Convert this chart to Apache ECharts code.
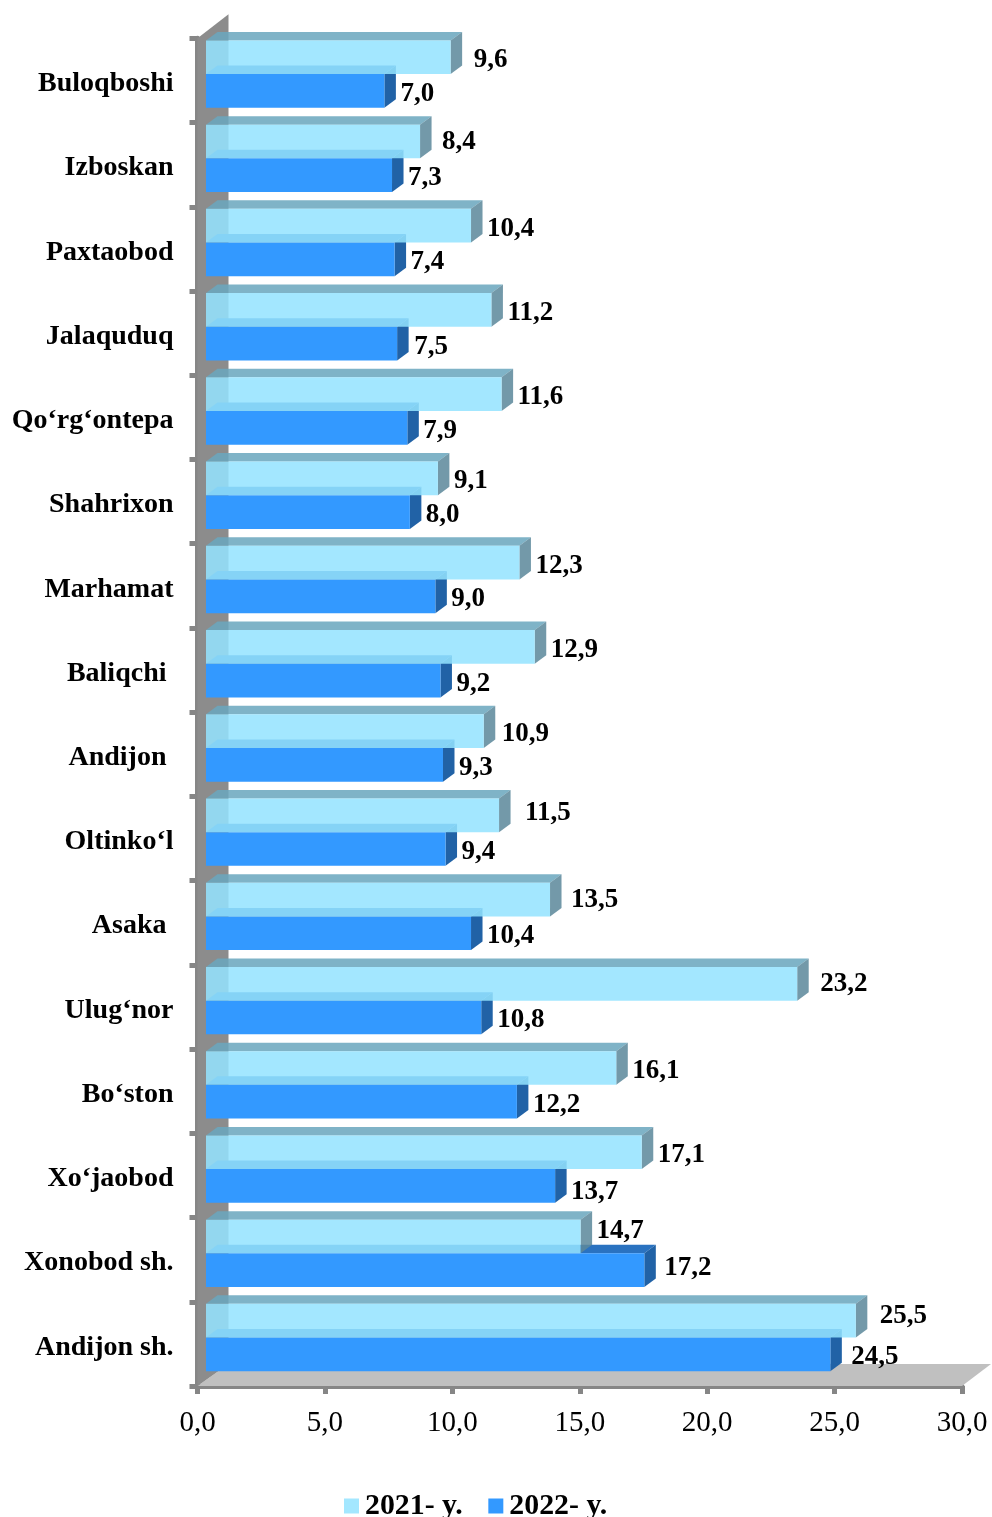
<!DOCTYPE html>
<html>
<head>
<meta charset="utf-8">
<script src="https://cdn.jsdelivr.net/npm/echarts@6/dist/echarts.min.js"></script>
<style>
html, body { margin: 0; padding: 0; background: #fff; }
#chart { width: 992px; height: 1517px; }
</style>
</head>
<body>
<div id="chart"></div>
<script>
var categories = ["Buloqboshi", "Izboskan", "Paxtaobod", "Jalaquduq", "Qo‘rg‘ontepa", "Shahrixon", "Marhamat", "Baliqchi ", "Andijon ", "Oltinko‘l", "Asaka ", "Ulug‘nor", "Bo‘ston", "Xo‘jaobod", "Xonobod sh.", "Andijon sh."];
var values2021 = [9.6, 8.4, 10.4, 11.2, 11.6, 9.1, 12.3, 12.9, 10.9, 11.5, 13.5, 23.2, 16.1, 17.1, 14.7, 25.5];
var values2022 = [7.0, 7.3, 7.4, 7.5, 7.9, 8.0, 9.0, 9.2, 9.3, 9.4, 10.4, 10.8, 12.2, 13.7, 17.2, 24.5];

// labels moved by hand in the original, row index -> [dx, dy]
var shift2021 = { 0: [7, 0], 1: [6, -2], 8: [2, 0], 9: [10, -5], 10: [5, -3], 11: [7, -3], 14: [0, -8], 15: [8, -8] };
var shift2022 = { 3: [1, 0], 13: [0, 3], 14: [4, -5], 15: [5, 0] };

var font = "'Liberation Serif', 'Times New Roman', serif";
var axisGray = "#868686";

// 3d look of the chart
var wallDx = 31, wallDy = -22;
var barInset = 8.5;
var barDx = 11.5, barDy = -8.5;

function fmt(v) {
    return v.toFixed(1).replace(".", ",");
}

function poly(points, fill) {
    return { type: "polygon", shape: { points: points }, style: { fill: fill }, silent: true };
}

// one bar: side and top first, then the front face and the value
function barItem(colors, topOffset, shifts) {
    return function (params, api) {
        var i = api.value(1);
        var v = api.value(0);
        var c = api.coord([v, i]);
        var zero = api.coord([0, i]);
        var band = api.size([0, 1])[1];
        var h = band * 0.4;
        var x0 = zero[0] + barInset;
        var x1 = c[0] + barInset;
        var y0 = c[1] + topOffset * band;
        var y1 = y0 + h;
        var s = shifts[i] || [0, 0];
        return {
            type: "group",
            children: [
                poly([[x0, y0], [x0 + barDx, y0 + barDy], [x1 + barDx, y0 + barDy], [x1, y0]], colors.top),
                poly([[x1, y0], [x1 + barDx, y0 + barDy], [x1 + barDx, y1 + barDy], [x1, y1]], colors.side),
                { type: "rect", shape: { x: x0, y: y0, width: x1 - x0, height: h }, style: { fill: colors.face }, silent: true },
                {
                    type: "text",
                    z2: 100,
                    silent: true,
                    style: {
                        text: fmt(v),
                        x: x1 + barDx + 4.5 + s[0],
                        y: y0 + h / 2 + 3 + s[1],
                        fill: "#000",
                        font: "bold 27px " + font,
                        textAlign: "left",
                        textVerticalAlign: "middle"
                    }
                }
            ]
        };
    };
}

function wallItem(params, api) {
    var g = params.coordSys;
    var l = g.x, r = g.x + g.width, t = g.y, b = g.y + g.height;
    return {
        type: "group",
        children: [
            poly([[l, b], [l + wallDx, b + wallDy], [r + wallDx - 2, b + wallDy], [r, b]], "#c0c0c0"),
            poly([[l, t], [l + wallDx, t + wallDy - 2], [l + wallDx, b + wallDy], [l, b]], "#8c8c8c")
        ]
    };
}

function rows(list) {
    return list.map(function (v, i) { return [v, i]; });
}

var myChart = echarts.init(document.getElementById("chart"));
var option = {
    animation: false,
    backgroundColor: "#fff",
    textStyle: { fontFamily: font },
    grid: { left: 197.5, right: 30, top: 38.3, bottom: 131, containLabel: false },
    legend: {
        data: ["2021- y.", "2022- y."],
        left: 339,
        top: 1486,
        itemWidth: 15,
        itemHeight: 15,
        itemGap: 25.5,
        icon: "rect",
        textStyle: { fontFamily: font, fontWeight: "bold", fontSize: 29.85, color: "#000", padding: [0, 0, 0, 1] }
    },
    xAxis: {
        type: "value",
        min: 0,
        max: 30,
        interval: 5,
        splitLine: { show: false },
        axisLine: { show: true, lineStyle: { color: axisGray, width: 5 } },
        axisTick: { show: true, length: 8, lineStyle: { color: axisGray, width: 5 } },
        axisLabel: {
            margin: 23,
            fontFamily: font,
            fontSize: 29,
            color: "#000",
            formatter: function (v) { return fmt(v); }
        }
    },
    yAxis: {
        type: "category",
        inverse: true,
        data: categories,
        splitLine: { show: false },
        axisLine: { show: true, lineStyle: { color: axisGray, width: 5 } },
        axisTick: { show: true, length: 8, lineStyle: { color: axisGray, width: 5 } },
        axisLabel: {
            margin: 24,
            fontFamily: font,
            fontWeight: "bold",
            fontSize: 28,
            color: "#000",
            interval: 0,
            // labels sit a little below the band centre
            verticalAlign: "top",
            lineHeight: 7
        }
    },
    series: [
        {
            name: "wall",
            type: "custom",
            silent: true,
            z: 1,
            clip: false,
            data: [[0, 0]],
            encode: { x: 0, y: 1 },
            renderItem: wallItem
        },
        {
            // dark bar goes first, the light one is see-through and sits over its top
            name: "2022- y.",
            type: "custom",
            z: 2,
            clip: false,
            itemStyle: { color: "#3399ff" },
            data: rows(values2022),
            encode: { x: 0, y: 1 },
            renderItem: barItem({ face: "#3399ff", top: "#2a72c0", side: "#2162a6" }, -0.075, shift2022)
        },
        {
            name: "2021- y.",
            type: "custom",
            z: 3,
            clip: false,
            itemStyle: { color: "#a3e7ff" },
            data: rows(values2021),
            encode: { x: 0, y: 1 },
            renderItem: barItem({ face: "rgba(148,227,255,0.86)", top: "rgba(106,167,190,0.86)", side: "rgba(92,136,155,0.86)" }, -0.475, shift2021)
        }
    ]
};
myChart.setOption(option);
</script>
</body>
</html>
